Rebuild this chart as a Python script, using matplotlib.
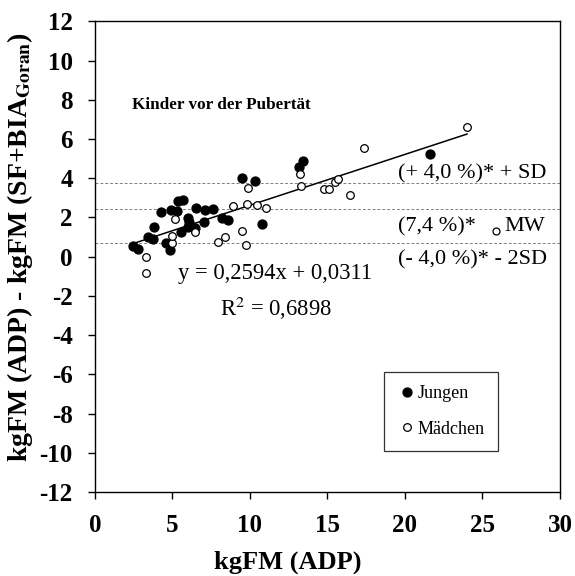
"""Bland-Altman-artiger Plot: kgFM (ADP) vs. Differenz ADP - SF+BIA (Goran)."""
import matplotlib
matplotlib.use('Agg')
import matplotlib.pyplot as plt
import numpy as np

plt.rcParams['font.family'] = ['Liberation Serif', 'DejaVu Serif']
plt.rcParams['mathtext.fontset'] = 'stix'
plt.rcParams['axes.unicode_minus'] = False

# Jungen (gefuellte Punkte)
jungen_x = [2.46, 2.79, 3.43, 3.75, 3.81, 4.24, 4.61, 4.82, 4.89, 5.32, 5.36, 5.68,
            5.53, 6.0, 6.07, 6.0, 6.43, 6.54, 7.05, 7.07, 7.6, 8.18, 8.57, 9.5,
            10.35, 10.8, 13.14, 13.4, 21.6]
jungen_y = [0.55, 0.38, 0.99, 0.89, 1.52, 2.30, 0.68, 0.34, 2.38, 2.33, 2.84, 2.89,
            1.25, 1.99, 1.79, 1.53, 1.45, 2.47, 1.75, 2.38, 2.45, 1.99, 1.87, 4.03,
            3.88, 1.68, 4.59, 4.88, 5.22]

# Maedchen (offene Punkte)
maedchen_x = [3.26, 3.26, 4.97, 5.0, 5.14, 6.43, 7.95, 8.4, 8.9, 9.5, 9.75, 9.8,
              9.9, 10.46, 11.04, 13.2, 13.26, 14.79, 15.07, 15.48, 15.65, 16.44,
              17.36, 24.0]
maedchen_y = [0.0, -0.85, 0.68, 1.06, 1.92, 1.25, 0.77, 1.02, 2.59, 1.32, 0.58, 2.67,
              3.52, 2.64, 2.47, 4.22, 3.63, 3.44, 3.44, 3.83, 3.96, 3.15, 5.53, 6.6]

# Regression und Grenzlinien
slope, intercept = 0.2594, 0.0311
lines_y = [3.74, 2.42, 0.68]   # +SD, MW, -2SD
mw_marker = (25.87, 1.31)

xticks = [0, 5, 10, 15, 20, 25, 30]
yticks = list(range(-12, 13, 2))

fig = plt.figure(figsize=(5.75, 5.76), dpi=100)
ax = fig.add_axes([0.1652, 0.146, 0.8087, 0.8167])

for y in lines_y:
    ax.axhline(y, color='#808080', lw=0.7, ls=(0, (3, 2)), zorder=1)

all_x = np.array(jungen_x + maedchen_x)
xr = np.array([all_x.min(), all_x.max()])
ax.plot(xr, slope * xr + intercept, color='black', lw=1.1, zorder=2)

ax.plot(jungen_x, jungen_y, 'o', ms=6.4, color='black', zorder=3, label='Jungen')
ax.plot(maedchen_x, maedchen_y, 'o', ms=5.5, mfc='white', mec='black', mew=0.9,
        zorder=4, label='Mädchen')
ax.plot(*mw_marker, 'o', ms=5, mfc='white', mec='black', mew=0.9, zorder=4)

ax.text(2.4, 7.74, 'Kinder vor der Pubertät', fontsize=12.3, fontweight='bold', va='center')
ax.text(5.35, -0.88, 'y = 0,2594x + 0,0311', fontsize=16.3, va='center')
ax.text(8.06, -2.62, 'R$^2$ = 0,6898', fontsize=16.3, va='center')
ax.text(19.55, 4.22, '(+ 4,0 %)* + SD', fontsize=16, va='center')
ax.text(19.55, 1.53, '(7,4 %)*', fontsize=16, va='center')
ax.text(26.4, 1.53, 'MW', fontsize=16, va='center')
ax.text(19.55, -0.17, '(- 4,0 %)* - 2SD', fontsize=16, va='center')

ax.set_xlim(0, 30)
ax.set_ylim(-12, 12)
ax.set_xticks(xticks)
ax.set_yticks(yticks)
ax.tick_params(direction='out', length=5, width=1, labelsize=18, pad=11)
for lab in ax.get_xticklabels() + ax.get_yticklabels():
    lab.set_fontweight('bold')
for sp in ax.spines.values():
    sp.set_linewidth(1)

fig.text(0.5, 0.024, 'kgFM (ADP)', fontsize=19, fontweight='bold',
         ha='center', va='center')
fig.text(0.035, 0.571, r'kgFM (ADP) - kgFM (SF+BIA$_{\mathbf{Goran}}$)', fontsize=20,
         fontweight='bold', rotation=90, ha='center', va='center')

leg = ax.legend(loc='upper left', bbox_to_anchor=(0.622, 0.255), borderaxespad=0,
                fontsize=13, frameon=True, fancybox=False, edgecolor='black',
                handletextpad=0.1, handlelength=1.0, borderpad=0.75, labelspacing=1.0)
leg.get_frame().set_linewidth(0.9)

fig.savefig('out.png', dpi=100)
